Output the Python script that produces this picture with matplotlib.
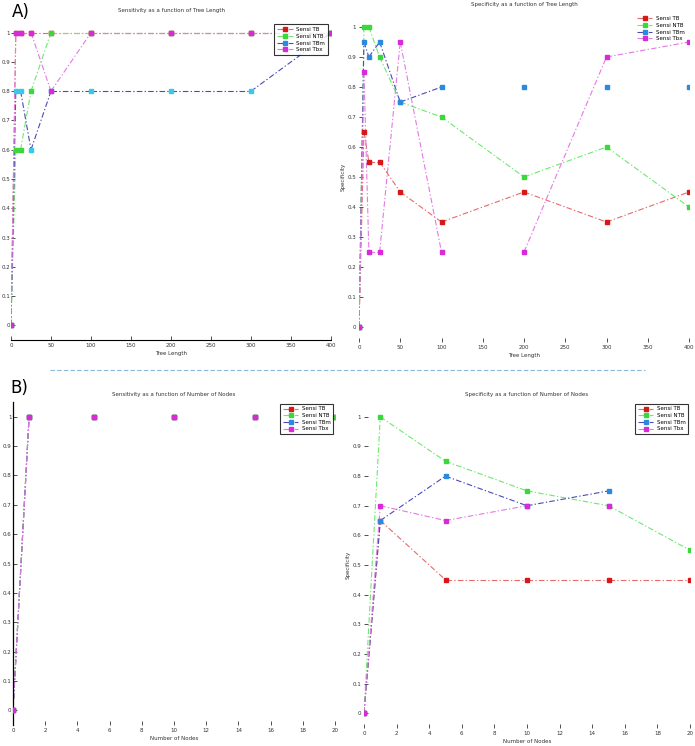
import numpy as np
import matplotlib
matplotlib.use("Agg")
import matplotlib.pyplot as plt
from matplotlib.lines import Line2D

# ---------------- data ----------------
tree_x = [0, 6, 12, 25, 50, 100, 200, 300, 400]
sens_tree_tb = [0, 1, 1, 1, 1, 1, 1, 1, 1]
sens_tree_ntb = [0, 0.6, 0.6, 0.8, 1, 1, 1, 1, 1]
sens_tree_tbm = [0, 0.8, 0.8, 0.6, 0.8, 0.8, 0.8, 0.8, 1]
sens_tree_tbx = [0, 1, 1, 1, 0.8, 1, 1, 1, 1]

spec_tree_tb = [0, 0.65, 0.55, 0.55, 0.45, 0.35, 0.45, 0.35, 0.45]
spec_tree_ntb = [0, 1, 1, 0.9, 0.75, 0.7, 0.5, 0.6, 0.4]
spec_tree_tbm = [0, 0.95, 0.9, 0.95, 0.75, 0.8, 0.8, 0.8, 0.8]
spec_tree_tbx = [0, 0.85, 0.25, 0.25, 0.95, 0.25, 0.25, 0.9, 0.95]

nodes_x = [0, 1, 5, 10, 15, 20]
sens_nodes_tb = [0, 1, 1, 1, 1, 1]
sens_nodes_ntb = [0, 1, 1, 1, 1, 1]
sens_nodes_tbm = [0, 1, 1, 1, 1, np.nan]
sens_nodes_tbx = [0, 1, 1, 1, 1, np.nan]

spec_nodes_tb = [0, 0.65, 0.45, 0.45, 0.45, 0.45]
spec_nodes_ntb = [0, 1, 0.85, 0.75, 0.7, 0.55]
spec_nodes_tbm = [0, 0.65, 0.8, 0.7, 0.75, np.nan]
spec_nodes_tbx = [0, 0.7, 0.65, 0.7, 0.7, np.nan]

labels = ["Sensi TB", "Sensi NTB", "Sensi TBm", "Sensi Tbx"]
tree_ticks = [0, 50, 100, 150, 200, 250, 300, 350, 400]
nodes_ticks = [0, 2, 4, 6, 8, 10, 12, 14, 16, 18, 20]
y_ticks = [0, 0.1, 0.2, 0.3, 0.4, 0.5, 0.6, 0.7, 0.8, 0.9, 1]
y_ticklabels = ["0", "0.1", "0.2", "0.3", "0.4", "0.5", "0.6", "0.7", "0.8", "0.9", "1"]

# segments (index of start point) that are not connected
breaks_spec_tree = {2: [5, 6, 7], 3: [5]}
breaks_sens_nodes = {0: [1, 2, 3, 4], 1: [1, 2, 3, 4], 2: [1, 2, 3, 4], 3: [1, 2, 3, 4]}
breaks_spec_nodes = {3: [3]}

# ---------------- style ----------------
line_colors = ["#e86a6a", "#6ee86e", "#4a4ab8", "#e27ae2"]
marker_colors = ["#d81818", "#3ad83a", "#2a8ae0", "#d82ad8"]
dash = (0, (5, 2, 1.2, 2))
FS = 4

fig = plt.figure(figsize=(6.95, 7.46), dpi=100)

def draw(ax, x, series, breaks, mcolors=None):
    mcolors = mcolors or marker_colors
    for i, y in enumerate(series):
        x_arr = np.asarray(x, float)
        y_arr = np.asarray(y, float)
        skip = breaks.get(i, [])
        for j in range(len(x_arr) - 1):
            if j in skip:
                continue
            if np.isnan(y_arr[j]) or np.isnan(y_arr[j + 1]):
                continue
            ax.plot(x_arr[j:j + 2], y_arr[j:j + 2], color=line_colors[i],
                    linestyle=dash, linewidth=0.8, zorder=2 + i * 0.1)
        ax.plot(x_arr, y_arr, linestyle="none", marker="s", markersize=3,
                color=mcolors[i], zorder=3 + i * 0.1)

def legend(ax, loc, frame=True, anchor=None):
    handles = [Line2D([], [], color=line_colors[i], linestyle=dash, linewidth=0.8,
                      marker="s", markersize=3, markerfacecolor=marker_colors[i],
                      markeredgecolor=marker_colors[i]) for i in range(4)]
    kw = {}
    if anchor is not None:
        kw["bbox_to_anchor"] = anchor
    lg = ax.legend(handles, labels, loc=loc, fontsize=FS, frameon=frame,
                   fancybox=False, borderpad=0.5, labelspacing=0.3,
                   handlelength=2.8, handletextpad=0.6, borderaxespad=0.3, **kw)
    if frame:
        lg.get_frame().set_edgecolor("black")
        lg.get_frame().set_linewidth(0.8)

def setup(ax, xlim, xticks, title, xlabel, ylabel=None, ypad=2):
    ax.set_xlim(*xlim)
    ax.set_ylim(-0.05, 1.05)
    ax.set_xticks(xticks)
    ax.set_xticklabels([str(t) for t in xticks])
    ax.set_yticks(y_ticks)
    ax.set_yticklabels(y_ticklabels)
    ax.tick_params(labelsize=FS, length=3, width=0.6, direction="in", pad=2, colors="#333333")
    ax.tick_params(axis="y", pad=ypad)
    ax.set_title(title, fontsize=FS, pad=4, color="#333333")
    ax.set_xlabel(xlabel, fontsize=FS, labelpad=2, color="#333333")
    if ylabel:
        ax.set_ylabel(ylabel, fontsize=FS, labelpad=1, color="#333333")
    for s in ax.spines.values():
        s.set_visible(False)

# A) top-left
ax1 = fig.add_axes([11 / 695, 1 - 340 / 746, 320 / 695, 322 / 746])
setup(ax1, (0, 400), tree_ticks, "Sensitivity as a function of Tree Length", "Tree Length", ypad=0.8)
ax1.spines["bottom"].set_visible(True)
ax1.spines["bottom"].set_linewidth(0.8)
draw(ax1, tree_x, [sens_tree_tb, sens_tree_ntb, sens_tree_tbm, sens_tree_tbx], {},
     mcolors=["#d81818", "#3ad83a", "#38c8e8", "#d82ad8"])
legend(ax1, "upper right", anchor=(0.995, 0.985))

# A) top-right
ax2 = fig.add_axes([359 / 695, 1 - 342 / 746, 330 / 695, 330 / 746])
setup(ax2, (0, 400), tree_ticks, "Specificity as a function of Tree Length", "Tree Length", "Specificity")
draw(ax2, tree_x, [spec_tree_tb, spec_tree_ntb, spec_tree_tbm, spec_tree_tbx], breaks_spec_tree)
legend(ax2, "upper right", frame=False)

# B) bottom-left
ax3 = fig.add_axes([13 / 695, 1 - 725 / 746, 322 / 695, 323 / 746])
setup(ax3, (0, 20), nodes_ticks, "Sensitivity as a function of Number of Nodes", "Number of Nodes", ypad=1)
ax3.spines["left"].set_visible(True)
ax3.spines["left"].set_linewidth(0.9)
draw(ax3, nodes_x, [sens_nodes_tb, sens_nodes_ntb, sens_nodes_tbm, sens_nodes_tbx], breaks_sens_nodes)
legend(ax3, "upper right")

# B) bottom-right
ax4 = fig.add_axes([364 / 695, 1 - 728 / 746, 326 / 695, 326 / 746])
setup(ax4, (0, 20), nodes_ticks, "Specificity as a function of Number of Nodes", "Number of Nodes", "Specificity")
draw(ax4, nodes_x, [spec_nodes_tb, spec_nodes_ntb, spec_nodes_tbm, spec_nodes_tbx], breaks_spec_nodes)
legend(ax4, "upper right")

# panel letters and separator
fig.text(12 / 695, 1 - 12 / 746, "A)", fontsize=12, va="center", ha="left")
fig.text(10 / 695, 1 - 388 / 746, "B)", fontsize=12, va="center", ha="left")
fig.add_artist(Line2D([50 / 695, 645 / 695], [1 - 370 / 746, 1 - 370 / 746],
                      color="#8ab8d8", linestyle=(0, (4, 2)), linewidth=0.8))

fig.savefig("out.png", dpi=100, facecolor="white")
